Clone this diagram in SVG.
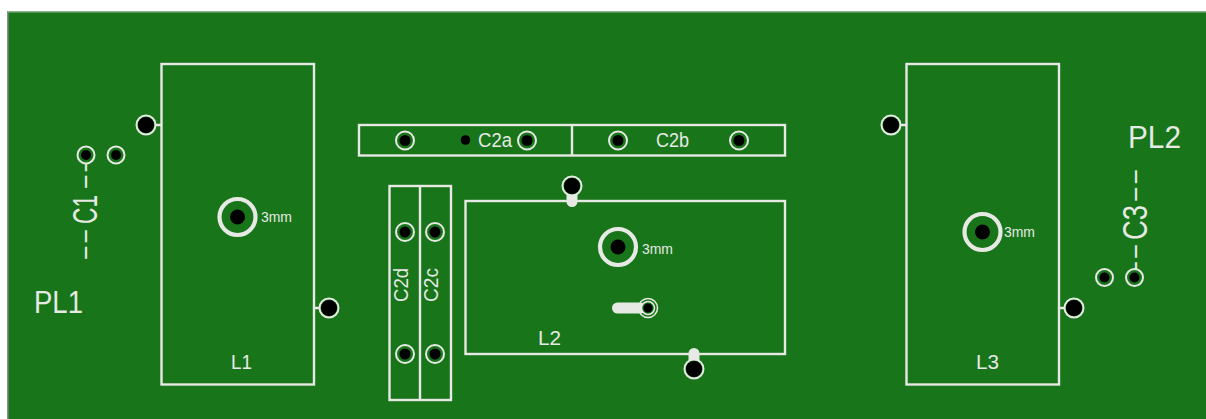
<svg xmlns="http://www.w3.org/2000/svg" width="1206" height="419" viewBox="0 0 1206 419">
<defs>
<style>
.silk{fill:none;stroke:#e6e9e4;stroke-width:2.4}
.t{fill:#e6e9e4;font-family:"Liberation Sans",Arial,sans-serif;font-weight:400}
.s{font-size:20px}.m{font-size:14px}.l{font-size:32px}.c{font-size:35px}.d{font-size:26px}
.ring{fill:#18751a;stroke:#e6e9e4}
.hole{fill:#000}
.track{fill:none;stroke:#e6e9e4;stroke-linecap:round}
</style>
</defs>
<rect width="1206" height="419" fill="#fff"/>
<rect x="8" y="11" width="1198" height="408" fill="#18751a"/>
<rect x="7" y="11" width="1.5" height="408" fill="#8a8f8a"/>
<rect x="8" y="11" width="1198" height="1.5" fill="#8db58e"/>
<g id="connectors">
<line class="track" x1="156" y1="125" x2="161" y2="125" stroke-width="2.4"/>
<line class="track" x1="314" y1="308" x2="320" y2="308" stroke-width="2.4"/>
<line class="track" x1="900" y1="125" x2="906" y2="125" stroke-width="2.4"/>
<line class="track" x1="1059" y1="308" x2="1065" y2="308" stroke-width="2.4"/>
</g>
<g id="L1"><rect class="silk" x="161.5" y="64" width="152.5" height="320.5"/><text class="t s" x="231" y="369" textLength="21" lengthAdjust="spacingAndGlyphs">L1</text>
<circle class="ring" cx="237.5" cy="217" r="18" stroke-width="4.2"/><circle class="hole" cx="237.5" cy="217" r="7.5"/><text class="t m" x="261" y="222" textLength="31" lengthAdjust="spacingAndGlyphs">3mm</text></g>
<g id="L1-pads"><circle class="ring" cx="146" cy="125" r="9.5" stroke-width="2"/><circle class="hole" cx="146" cy="125" r="8"/><circle class="ring" cx="329" cy="308" r="9.5" stroke-width="2"/><circle class="hole" cx="329" cy="308" r="8"/></g>
<g id="C1">
<text class="t" transform="translate(97 261) rotate(-90)"><tspan class="d" x="0" y="-3.8" textLength="33" lengthAdjust="spacingAndGlyphs">--</tspan><tspan class="c" x="37" y="0" textLength="29" lengthAdjust="spacingAndGlyphs">C1</tspan><tspan class="d" x="71" y="-3.8" textLength="33" lengthAdjust="spacingAndGlyphs">--</tspan></text>
<circle class="ring" cx="86" cy="155" r="8.5" stroke-width="2"/><circle class="hole" cx="86" cy="155" r="5"/><circle class="ring" cx="116" cy="155" r="8.5" stroke-width="2"/><circle class="hole" cx="116" cy="155" r="5"/></g>
<text id="PL1" class="t l" x="34" y="313" textLength="49" lengthAdjust="spacingAndGlyphs">PL1</text>
<g id="C2a-b"><rect class="silk" x="359" y="125" width="426" height="30.5"/><line class="silk" x1="572" y1="125" x2="572" y2="155.5"/>
<circle class="ring" cx="405" cy="140.5" r="9" stroke-width="2"/><circle class="hole" cx="405" cy="140.5" r="5.5"/>
<circle class="ring" cx="527" cy="140.5" r="9" stroke-width="2"/><circle class="hole" cx="527" cy="140.5" r="5.5"/>
<circle class="ring" cx="618" cy="140.5" r="9" stroke-width="2"/><circle class="hole" cx="618" cy="140.5" r="5.5"/>
<circle class="ring" cx="739" cy="140.5" r="9" stroke-width="2"/><circle class="hole" cx="739" cy="140.5" r="5.5"/>
<circle class="hole" cx="465.5" cy="140" r="4.8"/>
<text class="t s" x="478" y="147" textLength="34" lengthAdjust="spacingAndGlyphs">C2a</text><text class="t s" x="656" y="147" textLength="33" lengthAdjust="spacingAndGlyphs">C2b</text></g>
<g id="C2c-d"><rect class="silk" x="389.5" y="186" width="61.5" height="214"/><line class="silk" x1="420" y1="186" x2="420" y2="400"/>
<circle class="ring" cx="405" cy="232" r="9" stroke-width="2"/><circle class="hole" cx="405" cy="232" r="5.5"/>
<circle class="ring" cx="435" cy="232" r="9" stroke-width="2"/><circle class="hole" cx="435" cy="232" r="5.5"/>
<circle class="ring" cx="405" cy="354" r="9" stroke-width="2"/><circle class="hole" cx="405" cy="354" r="5.5"/>
<circle class="ring" cx="435" cy="354" r="9" stroke-width="2"/><circle class="hole" cx="435" cy="354" r="5.5"/>
<text class="t s" transform="translate(408 302) rotate(-90)" textLength="34" lengthAdjust="spacingAndGlyphs">C2d</text><text class="t s" transform="translate(438 302) rotate(-90)" textLength="34" lengthAdjust="spacingAndGlyphs">C2c</text></g>
<g id="L2"><rect class="silk" x="465.5" y="201" width="319.5" height="153"/><line class="track" x1="572" y1="188" x2="572" y2="201.5" stroke-width="11"/><line class="track" x1="694" y1="353.5" x2="694" y2="366" stroke-width="11"/>
<circle class="ring" cx="572" cy="186" r="9.5" stroke-width="2"/><circle class="hole" cx="572" cy="186" r="8"/><circle class="ring" cx="694" cy="369" r="9.5" stroke-width="2"/><circle class="hole" cx="694" cy="369" r="8"/>
<circle class="ring" cx="618" cy="247" r="18" stroke-width="4.2"/><circle class="hole" cx="618" cy="247" r="7.5"/><text class="t m" x="642" y="254" textLength="31" lengthAdjust="spacingAndGlyphs">3mm</text>
<line class="track" x1="617.5" y1="308" x2="640" y2="308" stroke-width="11"/><circle cx="648" cy="308" r="9.5" fill="none" stroke="#e6e9e4" stroke-width="1.5"/><circle cx="648" cy="308" r="6.5" fill="#18751a" stroke="#e6e9e4" stroke-width="1.5"/><circle class="hole" cx="648" cy="308" r="4.5"/>
<text class="t s" x="538" y="345" textLength="23" lengthAdjust="spacingAndGlyphs">L2</text></g>
<g id="L3"><rect class="silk" x="906.5" y="64" width="152.5" height="320.5"/><text class="t s" x="976" y="369" textLength="23" lengthAdjust="spacingAndGlyphs">L3</text>
<circle class="ring" cx="982.5" cy="232" r="18" stroke-width="4.2"/><circle class="hole" cx="982.5" cy="232" r="7.5"/><text class="t m" x="1004" y="237" textLength="31" lengthAdjust="spacingAndGlyphs">3mm</text></g>
<g id="L3-pads"><circle class="ring" cx="891" cy="125" r="9.5" stroke-width="2"/><circle class="hole" cx="891" cy="125" r="8"/><circle class="ring" cx="1074" cy="308" r="9.5" stroke-width="2"/><circle class="hole" cx="1074" cy="308" r="8"/></g>
<g id="C3">
<text class="t" transform="translate(1147 277) rotate(-90)"><tspan class="d" x="0" y="-4.1" textLength="34" lengthAdjust="spacingAndGlyphs">--</tspan><tspan class="c" x="37" y="0" textLength="35" lengthAdjust="spacingAndGlyphs">C3</tspan><tspan class="d" x="74" y="-4.1" textLength="35" lengthAdjust="spacingAndGlyphs">--</tspan></text>
<circle class="ring" cx="1104.5" cy="277.5" r="8.5" stroke-width="2"/><circle class="hole" cx="1104.5" cy="277.5" r="5"/><circle class="ring" cx="1134.5" cy="277.5" r="8.5" stroke-width="2"/><circle class="hole" cx="1134.5" cy="277.5" r="5"/></g>
<text id="PL2" class="t l" x="1128" y="148" textLength="53" lengthAdjust="spacingAndGlyphs">PL2</text>
</svg>
